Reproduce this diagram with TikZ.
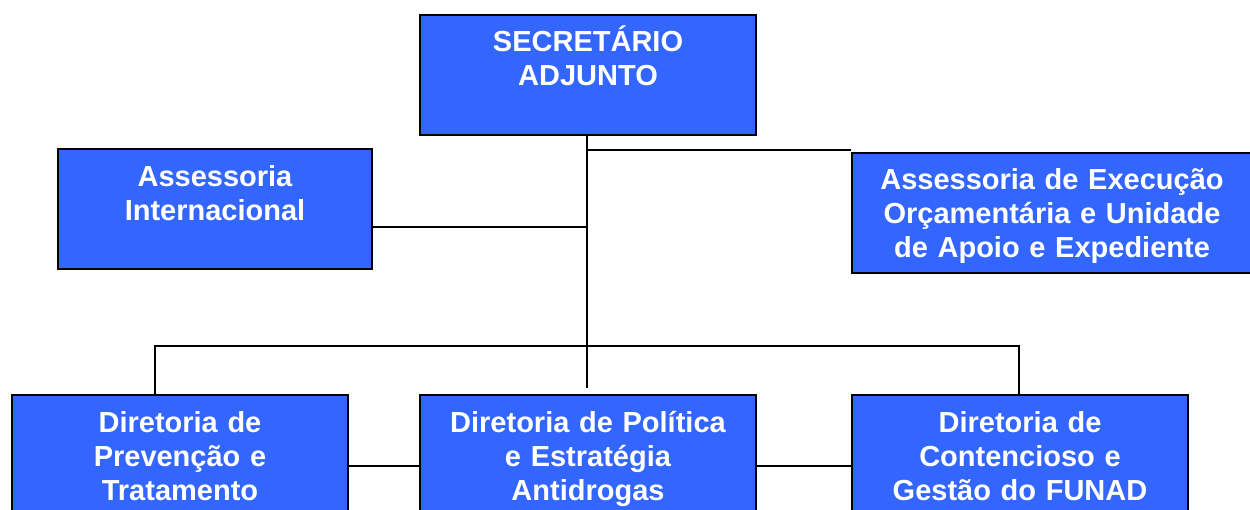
\documentclass[tikz,border=0pt]{standalone}
\usepackage{fontspec}
\setmainfont{Liberation Sans}
\definecolor{boxblue}{RGB}{51,102,255}
\begin{document}
\begin{tikzpicture}[x=1pt,y=-1pt,
  box/.style={draw=black, line width=2pt, fill=boxblue, text=white,
    font=\bfseries\fontsize{29}{34}\selectfont, align=center,
    inner sep=0pt, anchor=north west, text height=37pt, text depth=83pt},
  conn/.style={draw=black, line width=1.8pt}]
\useasboundingbox (0,0) rectangle (1250,510);
% boxes
\node[box, text width=336pt] (top) at (419,14) {SECRETÁRIO\\ADJUNTO};
\node[box, text width=314pt, text height=38pt, text depth=82pt] (lb) at (57,148) {Assessoria\\Internacional};
\node[box, text width=400pt] (rb) at (851,152) {Assessoria de Execução\\Orçamentária e Unidade\\de Apoio e Expediente};
\node[box, text width=336pt] (bl) at (11,394) {Diretoria de\\Prevenção e\\Tratamento};
\node[box, text width=336pt] (bm) at (419,394) {Diretoria de Política\\e Estratégia\\Antidrogas};
\node[box, text width=336pt] (br) at (851,394) {Diretoria de\\Contencioso e\\Gestão do FUNAD};
% junction coordinates
\coordinate (tj) at (587,134);
\coordinate (tend) at (587,388);
\coordinate (j1) at (587,150);
\coordinate (j2) at (587,227);
\coordinate (busl) at (155,346);
\coordinate (busr) at (1019,346);
\coordinate (h) at (0,466);
% connectors
\draw[conn] (tj) -- (tend);
\draw[conn] (j1) -- (j1 -| rb.west);
\draw[conn] (j2) -- (j2 -| lb.east);
\draw[conn] (busl |- bl.north) -- (busl) -- (busr) -- (busr |- br.north);
\draw[conn] (h -| bl.east) -- (h -| bm.west);
\draw[conn] (h -| bm.east) -- (h -| br.west);
\end{tikzpicture}
\end{document}
